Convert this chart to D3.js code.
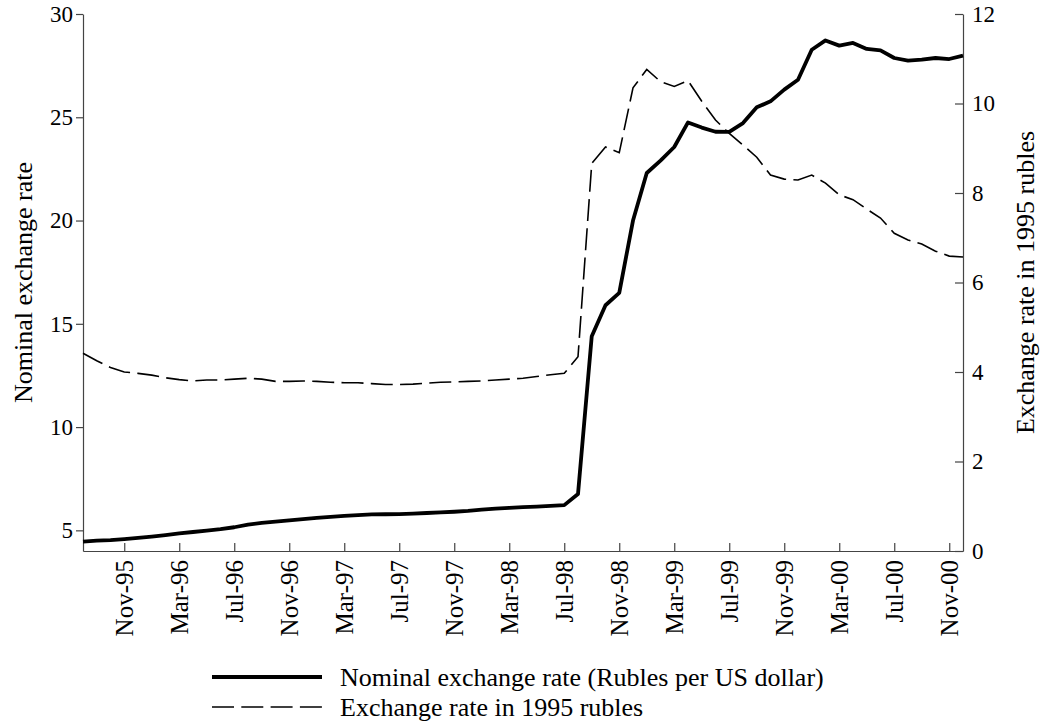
<!DOCTYPE html>
<html>
<head>
<meta charset="utf-8">
<script src="https://cdn.jsdelivr.net/npm/d3@7"></script>
<style>
body { margin: 0; background: #fff; }
svg { display: block; }
svg text { font-family: "Liberation Serif", "Times New Roman", serif !important; }
</style>
</head>
<body>
<svg id="chart"></svg>
<script>
// monthly series, Aug-95 .. Dec-00
const firstMonth = new Date(1995, 7, 1);
const lastMonth = new Date(2000, 11, 1);

const tickLabels = ["Nov-95", "Mar-96", "Jul-96", "Nov-96", "Mar-97", "Jul-97", "Nov-97", "Mar-98",
    "Jul-98", "Nov-98", "Mar-99", "Jul-99", "Nov-99", "Mar-00", "Jul-00", "Nov-00"];

// rubles per US dollar (thousands before 1998 redenomination)
const nominal = [
    4.45, 4.50, 4.53, 4.58, 4.64,
    4.70, 4.77, 4.85, 4.92, 4.99, 5.06, 5.15, 5.28, 5.36, 5.42, 5.48, 5.54,
    5.60, 5.65, 5.70, 5.74, 5.77, 5.78, 5.79, 5.81, 5.84, 5.87, 5.90, 5.94,
    6.00, 6.05, 6.09, 6.12, 6.15, 6.18, 6.22, 6.76, 14.40, 15.90, 16.50, 20.00,
    22.30, 22.90, 23.56, 24.75, 24.50, 24.30, 24.29, 24.72, 25.48, 25.77, 26.34, 26.82,
    28.27, 28.72, 28.47, 28.60, 28.31, 28.24, 27.87, 27.74, 27.79, 27.87, 27.82, 27.98
];

// exchange rate in 1995 rubles
const real1995 = [
    4.42, 4.25, 4.10, 4.00, 3.97,
    3.93, 3.87, 3.83, 3.80, 3.82, 3.82, 3.84, 3.86, 3.84, 3.79, 3.79, 3.80,
    3.79, 3.77, 3.76, 3.76, 3.74, 3.72, 3.72, 3.73, 3.75, 3.77, 3.78, 3.79,
    3.80, 3.82, 3.84, 3.86, 3.90, 3.94, 3.97, 4.34, 8.66, 9.03, 8.90, 10.35,
    10.76, 10.49, 10.38, 10.51, 10.05, 9.63, 9.33, 9.07, 8.80, 8.40, 8.31, 8.29,
    8.40, 8.22, 7.96, 7.85, 7.64, 7.44, 7.10, 6.95, 6.86, 6.70, 6.59, 6.57
];

const leftTicks = [5, 10, 15, 20, 25, 30];
const rightTicks = [0, 2, 4, 6, 8, 10, 12];

const legendItems = [
    {label: "Nominal exchange rate (Rubles per US dollar)", dash: null, width: 3.8},
    {label: "Exchange rate in 1995 rubles", dash: "22,7.3", width: 1.6}
];

const config = {
    width: 1042,
    height: 723,
    margin: {top: 14, right: 79, bottom: 172, left: 83}
};

const svg = d3.select('#chart')
    .attr('width', config.width)
    .attr('height', config.height);

const inner_width = config.width - config.margin.left - config.margin.right;
const inner_height = config.height - config.margin.top - config.margin.bottom;

const g = svg.append('g')
    .attr('transform', `translate(${config.margin.left}, ${config.margin.top})`);

const months = d3.timeMonth.range(firstMonth, d3.timeMonth.offset(lastMonth, 1));
const fmt = d3.timeFormat("%b-%y");

const xscale = d3.scaleLinear()
    .domain([0, months.length - 1])
    .range([0, inner_width]);

const yleft = d3.scaleLinear()
    .domain([4, 30])
    .range([inner_height, 0]);

const yright = d3.scaleLinear()
    .domain([0, 12])
    .range([inner_height, 0]);

const tickIdx = months.map((m, i) => i).filter(i => tickLabels.includes(fmt(months[i])));

// axes
const xaxis = d3.axisBottom(xscale)
    .tickValues(tickIdx)
    .tickFormat(i => fmt(months[i]))
    .tickSizeInner(-8)
    .tickSizeOuter(0);

const xaxis_group = g.append('g')
    .attr('transform', `translate(0, ${inner_height})`)
    .call(xaxis);

xaxis_group.selectAll('text')
    .attr('y', 0)
    .attr('x', -9)
    .attr('dy', '0.33em')
    .attr('transform', 'rotate(-90)')
    .style('text-anchor', 'end')
    .style('font-size', '25px');

const yaxis_left = d3.axisLeft(yleft)
    .tickValues(leftTicks)
    .tickSizeInner(7)
    .tickSizeOuter(0)
    .tickPadding(3);

const yleft_group = g.append('g').call(yaxis_left);
yleft_group.selectAll('text').style('font-size', '23px');

const yaxis_right = d3.axisRight(yright)
    .tickValues(rightTicks)
    .tickSizeInner(-8)
    .tickSizeOuter(0)
    .tickPadding(9);

const yright_group = g.append('g')
    .attr('transform', `translate(${inner_width}, 0)`)
    .call(yaxis_right);
yright_group.selectAll('text').style('font-size', '23px');

g.selectAll('.domain, .tick line')
    .attr('stroke', '#444')
    .attr('stroke-width', 1.2);
g.selectAll('.tick text').attr('fill', '#000');

// axis titles
svg.append('text')
    .attr('transform', `translate(23, ${config.margin.top + inner_height / 2}) rotate(-90)`)
    .attr('text-anchor', 'middle')
    .attr('dy', '0.33em')
    .style('font-size', '26px')
    .text('Nominal exchange rate');

svg.append('text')
    .attr('transform', `translate(1025, ${config.margin.top + inner_height / 2}) rotate(-90)`)
    .attr('text-anchor', 'middle')
    .attr('dy', '0.33em')
    .style('font-size', '26px')
    .text('Exchange rate in 1995 rubles');

// lines
const lineLeft = d3.line()
    .x((d, i) => xscale(i))
    .y(d => yleft(d));

const lineRight = d3.line()
    .x((d, i) => xscale(i))
    .y(d => yright(d));

g.append('path')
    .attr('d', lineRight(real1995))
    .attr('fill', 'none')
    .attr('stroke', '#000')
    .attr('stroke-width', legendItems[1].width)
    .attr('stroke-dasharray', legendItems[1].dash);

g.append('path')
    .attr('d', lineLeft(nominal))
    .attr('fill', 'none')
    .attr('stroke', '#000')
    .attr('stroke-width', legendItems[0].width)
    .attr('stroke-linejoin', 'round');

// legend
const legend = svg.append('g')
    .attr('transform', 'translate(212, 677)');

legendItems.forEach((item, i) => {
    const row = legend.append('g').attr('transform', `translate(0, ${i * 30})`);
    row.append('line')
        .attr('x1', 0).attr('x2', 110)
        .attr('y1', 0).attr('y2', 0)
        .attr('stroke', '#000')
        .attr('stroke-width', item.width)
        .attr('stroke-dasharray', item.dash);
    row.append('text')
        .attr('x', 128)
        .attr('dy', '0.33em')
        .style('font-size', '26px')
        .text(item.label);
});
</script>
</body>
</html>
